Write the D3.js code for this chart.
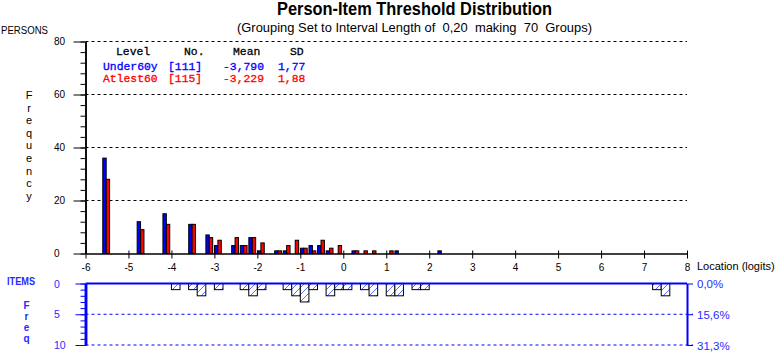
<!DOCTYPE html>
<html>
<head>
<meta charset="utf-8">
<script src="https://cdn.jsdelivr.net/npm/d3@7"></script>
<style>
  body { margin: 0; background: #fff; }
  svg { display: block; font-family: 'Liberation Sans', Arial, sans-serif; }
</style>
</head>
<body>
<svg id="chart"></svg>
<script>
// persons: bin centres (interval 0.2 logits) and counts per group
const personLoc = [-5.5, -4.7, -4.1, -3.5, -3.1, -2.9, -2.5, -2.3, -2.1, -1.9, -1.5, -1.3, -1.1, -0.9, -0.7, -0.5, -0.3, -0.1, 0.3, 0.5, 0.7, 1.1, 1.3, 2.3];
const under60 = [36, 12, 15, 11, 7, 3, 3, 3, 6, 1, 1, 1, 0, 2, 3, 3, 1, 0, 1, 0, 0, 0, 1, 1];
const atleast60 = [28, 9, 11, 11, 6, 5, 6, 3, 6, 4, 1, 3, 5, 2, 1, 5, 2, 3, 1, 1, 1, 1, 0, 0];
// items: bin centres and counts
const itemLoc = [-3.9, -3.5, -3.3, -2.9, -2.3, -2.1, -1.9, -1.3, -1.1, -0.9, -0.7, -0.3, -0.1, 0.1, 0.5, 0.7, 1.1, 1.3, 1.7, 1.9, 7.3, 7.5];
const itemFreq = [1, 1, 2, 1, 1, 2, 1, 1, 2, 3, 1, 2, 1, 1, 1, 2, 2, 2, 1, 1, 1, 2];
const binWidth = 0.2;

const xTicks = d3.range(-6, 9);
const personTicks = [0, 20, 40, 60, 80];
const itemTicks = [0, 5, 10];
const itemPctLabels = ['0,0%', '15,6%', '31,3%'];

const groupNames = ['Under60y', 'Atlest60'];
const groupN = ['[111]', '[115]'];
const groupMean = ['-3,790', '-3,229'];
const groupSD = ['1,77', '1,88'];
const groupColors = ['#0000ff', '#ff0000'];

const W = 778, H = 352;
const blue = '#0000ff', itemBlue = '#2a2aff', hatchBlue = '#5a70ff';
const svg = d3.select('#chart').attr('width', W).attr('height', H);

const x = d3.scaleLinear().domain([-6, 8]).range([85.5, 687]);
const yP = d3.scaleLinear().domain([0, 80]).range([253.5, 41.5]);
const yI = d3.scaleLinear().domain([0, 10]).range([283.5, 345]);

// hatch pattern for the item bars
const defs = svg.append('defs');
const pat = defs.append('pattern')
  .attr('id', 'hatch')
  .attr('patternUnits', 'userSpaceOnUse')
  .attr('width', 7).attr('height', 7);
pat.append('rect').attr('width', 7).attr('height', 7).attr('fill', '#fff');
pat.append('path')
  .attr('d', 'M-1,1 l2,-2 M0,7 l7,-7 M6,8 l2,-2')
  .attr('stroke', hatchBlue).attr('stroke-width', 1);

// titles
svg.append('text')
  .attr('x', 414.5).attr('y', 15)
  .attr('text-anchor', 'middle')
  .attr('font-size', 17.5).attr('font-weight', 'bold')
  .attr('textLength', 275).attr('lengthAdjust', 'spacingAndGlyphs')
  .text('Person-Item Threshold Distribution');
svg.append('text')
  .attr('x', 414.5).attr('y', 31.5)
  .attr('text-anchor', 'middle')
  .attr('font-size', 13)
  .style('white-space', 'pre')
  .attr('textLength', 355).attr('lengthAdjust', 'spacingAndGlyphs')
  .text('(Grouping Set to Interval Length of  0,20  making  70  Groups)');

svg.append('text')
  .attr('x', 1).attr('y', 34)
  .attr('font-size', 10)
  .attr('textLength', 47).attr('lengthAdjust', 'spacingAndGlyphs')
  .text('PERSONS');

// "Frequency" stacked letters
svg.append('g').selectAll('text')
  .data('Frequency'.split(''))
  .join('text')
  .attr('x', 29).attr('y', (d, i) => 99 + i * 12.6)
  .attr('text-anchor', 'middle')
  .attr('font-size', 11)
  .text(d => d);

// gridlines
svg.append('g').selectAll('line')
  .data(personTicks.filter(d => d > 0))
  .join('line')
  .attr('x1', x(-6)).attr('x2', x(8))
  .attr('y1', d => yP(d)).attr('y2', d => yP(d))
  .attr('stroke', '#000').attr('stroke-width', 1)
  .attr('stroke-dasharray', '3,3');

// person bars
const barW = 3.4;
[under60, atleast60].forEach((series, s) => {
  svg.append('g').selectAll('rect')
    .data(personLoc.map((loc, i) => ({ loc, v: series[i] })).filter(d => d.v > 0))
    .join('rect')
    .attr('x', d => x(d.loc) - 0.8 + (s - 1) * barW)
    .attr('width', barW)
    .attr('y', d => yP(d.v))
    .attr('height', d => yP(0) - yP(d.v))
    .attr('fill', groupColors[s])
    .attr('stroke', '#000').attr('stroke-width', 1);
});

// left axis (persons)
const yAxisG = svg.append('g').attr('transform', 'translate(' + x(-6) + ',0)');
yAxisG.call(d3.axisLeft(yP).tickValues(d3.range(0, 81, 4)).tickSize(5).tickSizeOuter(0).tickFormat(''));
yAxisG.call(g => g.append('g').call(d3.axisLeft(yP).tickValues(personTicks).tickSize(12).tickSizeOuter(0).tickFormat('')));
yAxisG.selectAll('path.domain').attr('stroke-width', 1.5);
svg.append('g').selectAll('text')
  .data(personTicks)
  .join('text')
  .attr('x', 54).attr('y', d => yP(d) + 3.5)
  .attr('font-size', 10)
  .text(d => d);

// bottom axis
const xAxisG = svg.append('g').attr('transform', 'translate(0,' + yP(0) + ')')
  .call(d3.axisBottom(x).tickValues(xTicks).tickSize(5).tickSizeOuter(0).tickFormat(d => String(d)));
xAxisG.select('path.domain').attr('stroke-width', 1.5);
xAxisG.selectAll('.tick line').attr('y1', -3).attr('y2', 5);
xAxisG.selectAll('.tick text').attr('y', 10).attr('font-size', 10).attr('font-family', null).attr('fill', '#000');
svg.append('text')
  .attr('x', 697).attr('y', 270)
  .attr('font-size', 11)
  .text('Location (logits)');

// legend
const legendG = svg.append('g')
  .attr('font-family', "'Liberation Mono', 'Courier New', monospace")
  .attr('font-size', 11.4)
  .style('white-space', 'pre');
[['Level', 116], ['No.', 184], ['Mean', 233], ['SD', 290]].forEach(h => {
  legendG.append('text').attr('x', h[1]).attr('y', 55)
    .attr('stroke', '#000').attr('stroke-width', 0.3)
    .text(h[0]);
});
groupNames.forEach((name, i) => {
  const yy = 70 + i * 11.5;
  const row = legendG.append('g').attr('fill', groupColors[i])
    .attr('stroke', groupColors[i]).attr('stroke-width', 0.3);
  row.append('text').attr('x', 103).attr('y', yy).text(name);
  row.append('text').attr('x', 168).attr('y', yy).text(groupN[i]);
  row.append('text').attr('x', 223).attr('y', yy).text(groupMean[i]);
  row.append('text').attr('x', 278).attr('y', yy).text(groupSD[i]);
});

// items panel
svg.append('g').selectAll('line')
  .data(itemTicks.filter(d => d > 0))
  .join('line')
  .attr('x1', x(-6)).attr('x2', x(8) + 6)
  .attr('y1', d => yI(d)).attr('y2', d => yI(d))
  .attr('stroke', blue).attr('stroke-width', 1)
  .attr('stroke-dasharray', '3,3');

svg.append('g').selectAll('rect')
  .data(itemLoc.map((loc, i) => ({ loc, v: itemFreq[i] })))
  .join('rect')
  .attr('x', d => x(d.loc - binWidth / 2))
  .attr('width', d => x(d.loc + binWidth / 2) - x(d.loc - binWidth / 2))
  .attr('y', yI(0))
  .attr('height', d => yI(d.v) - yI(0))
  .attr('fill', 'url(#hatch)')
  .attr('stroke', '#000').attr('stroke-width', 1);

svg.append('line')
  .attr('x1', x(-6)).attr('x2', x(8))
  .attr('y1', yI(0)).attr('y2', yI(0))
  .attr('stroke', blue).attr('stroke-width', 2);

const iAxisG = svg.append('g').attr('transform', 'translate(' + x(-6) + ',0)');
iAxisG.call(d3.axisLeft(yI).tickValues(d3.range(0, 11)).tickSize(5).tickSizeOuter(0).tickFormat(''));
iAxisG.call(g => g.append('g').call(d3.axisLeft(yI).tickValues(itemTicks).tickSize(10).tickSizeOuter(0).tickFormat('')));
iAxisG.selectAll('line').attr('stroke', blue);
iAxisG.selectAll('path.domain').attr('stroke', blue).attr('stroke-width', 2.5);

const rAxisG = svg.append('g').attr('transform', 'translate(' + x(8) + ',0)')
  .call(d3.axisRight(yI).tickValues(itemTicks).tickSize(6).tickSizeOuter(0).tickFormat(''));
rAxisG.selectAll('line').attr('stroke', blue);
rAxisG.selectAll('path.domain').attr('stroke', blue).attr('stroke-width', 2);

svg.append('g').selectAll('text')
  .data(itemTicks)
  .join('text')
  .attr('x', 54).attr('y', d => yI(d) + 4)
  .attr('font-size', 10.5).attr('fill', itemBlue)
  .text(d => d);
svg.append('g').selectAll('text')
  .data(itemTicks)
  .join('text')
  .attr('x', 697).attr('y', d => yI(d) + 4.5)
  .attr('font-size', 11.5).attr('fill', itemBlue)
  .text((d, i) => itemPctLabels[i]);

svg.append('text')
  .attr('x', 7).attr('y', 285)
  .attr('font-size', 10).attr('font-weight', 'bold').attr('fill', itemBlue)
  .attr('textLength', 28).attr('lengthAdjust', 'spacingAndGlyphs')
  .text('ITEMS');
svg.append('g').selectAll('text')
  .data('Freq'.split(''))
  .join('text')
  .attr('x', 26.5).attr('y', (d, i) => 309 + i * 11)
  .attr('text-anchor', 'middle')
  .attr('font-size', 10).attr('font-weight', 'bold').attr('fill', itemBlue)
  .text(d => d);
</script>
</body>
</html>
